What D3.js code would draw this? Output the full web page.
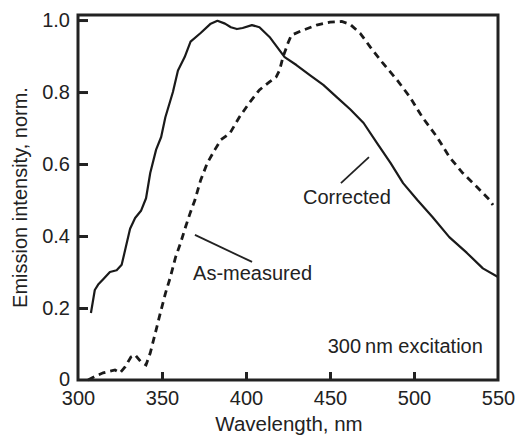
<!DOCTYPE html>
<html>
<head>
<meta charset="utf-8">
<script src="https://cdn.jsdelivr.net/npm/d3@7"></script>
<style>
  body { margin: 0; background: #fff; }
  text { font-family: "Liberation Sans", Arial, sans-serif; fill: #222; }
</style>
</head>
<body>
<script>
"use strict";

// corrected spectrum (solid)
const corrWl  = [307.7, 310, 312, 315, 319, 323, 326, 328.5, 331, 334, 337.5, 340.5, 343, 346.5, 349.5, 352, 356.5, 359.5, 363.5, 367, 373, 379, 383, 387.5, 391, 394.6, 398, 403.5, 408, 414, 419, 423, 430, 438, 446, 454, 462, 470, 478, 486, 493.5, 502, 511, 521, 531.5, 541, 550];
const corrVal = [0.186, 0.25, 0.265, 0.28, 0.30, 0.305, 0.32, 0.37, 0.42, 0.45, 0.47, 0.505, 0.575, 0.64, 0.675, 0.73, 0.80, 0.86, 0.897, 0.94, 0.964, 0.99, 0.998, 0.99, 0.98, 0.975, 0.978, 0.986, 0.98, 0.953, 0.922, 0.897, 0.875, 0.847, 0.82, 0.786, 0.752, 0.714, 0.658, 0.603, 0.547, 0.5, 0.453, 0.397, 0.353, 0.31, 0.286];

// as-measured spectrum (dashed)
const measWl  = [306, 310, 315, 322, 325, 328, 331.5, 334, 337.5, 340.5, 343, 346, 349, 352, 355, 358, 361, 364, 366.7, 369.6, 373, 377, 381.5, 385, 390.5, 396, 402, 408, 414, 418, 420, 422, 425, 427, 434, 442, 450, 457, 462, 468, 474, 481.5, 490, 497.6, 505, 513.7, 521, 529, 537.5, 545, 547];
const measVal = [0.0, 0.01, 0.02, 0.028, 0.02, 0.036, 0.064, 0.07, 0.05, 0.042, 0.075, 0.13, 0.186, 0.24, 0.286, 0.34, 0.38, 0.425, 0.463, 0.5, 0.555, 0.603, 0.64, 0.667, 0.686, 0.73, 0.77, 0.806, 0.828, 0.842, 0.861, 0.897, 0.936, 0.958, 0.972, 0.986, 0.994, 0.996, 0.988, 0.963, 0.925, 0.88, 0.833, 0.786, 0.73, 0.675, 0.62, 0.575, 0.536, 0.5, 0.486];

const xTicks = [300, 350, 400, 450, 500, 550];
const yTicks = [0, 0.2, 0.4, 0.6, 0.8, 1.0];

const width = 516, height = 438;
const margin = { top: 15, right: 18, bottom: 58, left: 78 };

const svg = d3.select("body").append("svg")
    .attr("width", width)
    .attr("height", height);

const x = d3.scaleLinear().domain([300, 550]).range([margin.left, width - margin.right]);
const y = d3.scaleLinear().domain([0, 1.014]).range([height - margin.bottom, margin.top]);

// curves
const line = d3.line().x(d => x(d[0])).y(d => y(d[1]));

svg.append("path")
    .datum(d3.zip(corrWl, corrVal))
    .attr("fill", "none")
    .attr("stroke", "#1a1a1a")
    .attr("stroke-width", 2.2)
    .attr("stroke-linejoin", "round")
    .attr("d", line);

svg.append("path")
    .datum(d3.zip(measWl, measVal))
    .attr("fill", "none")
    .attr("stroke", "#1a1a1a")
    .attr("stroke-width", 2.8)
    .attr("stroke-dasharray", "7,5")
    .attr("d", line);

// frame
svg.append("rect")
    .attr("x", margin.left)
    .attr("y", margin.top)
    .attr("width", width - margin.left - margin.right)
    .attr("height", height - margin.top - margin.bottom)
    .attr("fill", "none")
    .attr("stroke", "#222")
    .attr("stroke-width", 3);

// axes, ticks inward
const xAxis = svg.append("g")
    .attr("transform", `translate(0,${height - margin.bottom})`)
    .call(d3.axisBottom(x).tickValues(xTicks).tickSize(-8).tickPadding(11).tickFormat(d3.format("d")));
const yAxis = svg.append("g")
    .attr("transform", `translate(${margin.left},0)`)
    .call(d3.axisLeft(y).tickValues(yTicks).tickSize(-10).tickPadding(8)
        .tickFormat(d => d === 0 ? "0" : d3.format(".1f")(d)));

[xAxis, yAxis].forEach(g => {
    g.select(".domain").remove();
    g.selectAll(".tick line").attr("stroke", "#222").attr("stroke-width", 3);
    g.selectAll(".tick text").attr("font-size", 20).attr("fill", "#222")
        .style("font-family", "'Liberation Sans', Arial, sans-serif");
});
xAxis.selectAll(".tick line").filter(d => d === 300 || d === 550).remove();
yAxis.selectAll(".tick line").filter(d => d === 0).remove();
yAxis.selectAll(".tick text").filter(d => d === 0).attr("dy", "0.25em");

// axis titles
svg.append("text")
    .attr("x", 289)
    .attr("y", 431)
    .attr("text-anchor", "middle")
    .attr("font-size", 20.5)
    .text("Wavelength, nm");

svg.append("text")
    .attr("transform", `translate(27,${(margin.top + height - margin.bottom) / 2}) rotate(-90)`)
    .attr("text-anchor", "middle")
    .attr("font-size", 20)
    .text("Emission intensity, norm.");

// annotations
svg.append("text").attr("x", x(433.9)).attr("y", y(0.49)).attr("font-size", 20).text("Corrected");
svg.append("line")
    .attr("x1", x(456.5)).attr("y1", y(0.547)).attr("x2", x(473.2)).attr("y2", y(0.619))
    .attr("stroke", "#222").attr("stroke-width", 1.8);

svg.append("text").attr("x", x(368.5)).attr("y", y(0.278)).attr("font-size", 20).text("As-measured");
svg.append("line")
    .attr("x1", x(369.6)).attr("y1", y(0.403)).attr("x2", x(403.6)).attr("y2", y(0.328))
    .attr("stroke", "#222").attr("stroke-width", 1.8);

svg.append("text").attr("x", x(541)).attr("y", y(0.075)).attr("text-anchor", "end")
    .attr("font-size", 20).text("300\u2009nm excitation");
</script>
</body>
</html>
